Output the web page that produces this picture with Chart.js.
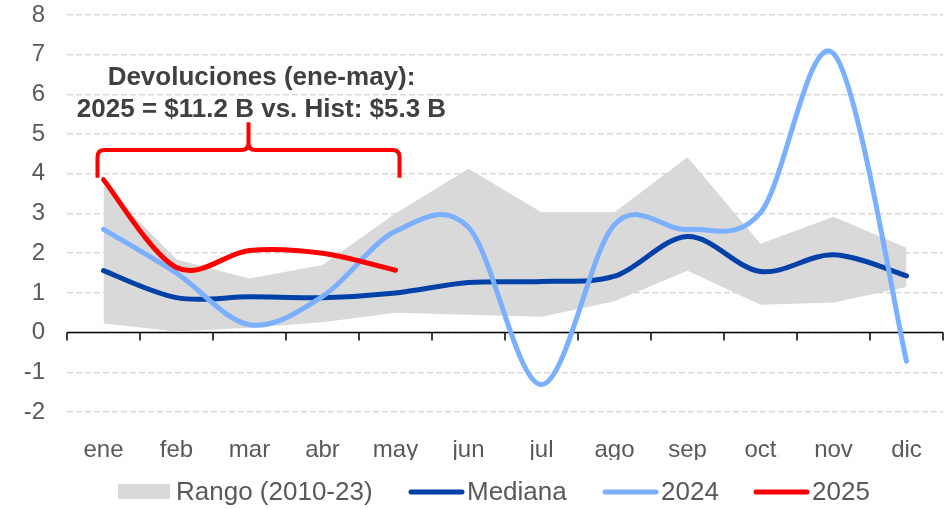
<!DOCTYPE html>
<html lang="es">
<head>
<meta charset="UTF-8">
<title>Devoluciones</title>
<script src="https://cdn.jsdelivr.net/npm/chart.js"></script>
<style>
  body { margin: 0; background: #fff; }
  #chart { display: block; }
</style>
</head>
<body>
<canvas id="chart" width="950" height="509"></canvas>
<script>
const meses = ['ene', 'feb', 'mar', 'abr', 'may', 'jun', 'jul', 'ago', 'sep', 'oct', 'nov', 'dic'];
const rangoMin = [0.23, 0.03, 0.12, 0.26, 0.50, 0.45, 0.40, 0.79, 1.56, 0.70, 0.76, 1.15];
const rangoMax = [3.72, 1.84, 1.36, 1.70, 3.00, 4.13, 3.03, 3.03, 4.42, 2.24, 2.92, 2.14];
const mediana = [1.56, 0.88, 0.90, 0.88, 1.00, 1.26, 1.29, 1.42, 2.42, 1.54, 1.96, 1.43];
const serie2024 = [2.60, 1.50, 0.20, 0.91, 2.55, 2.65, -1.31, 2.72, 2.60, 3.02, 7.03, -0.72];
const serie2025 = [3.85, 1.64, 2.07, 2.00, 1.57, null, null, null, null, null, null, null];
const yTicks = [-2, -1, 0, 1, 2, 3, 4, 5, 6, 7, 8];

const GRIS = '#D9D9D9';
const AZUL = '#0041A8';
const CELESTE = '#7BAFFF';
const ROJO = '#FF0000';
const TEXTO = '#595959';
const FUENTE = 'Arial, "Liberation Sans", sans-serif';

// Excel-like smoothing: uniform Catmull-Rom control points on the library's own points
const suavizado = {
    id: 'suavizado',
    beforeDatasetsDraw(chart) {
        chart.data.datasets.forEach((ds, i) => {
            if (!ds.suave) return;
            const meta = chart.getDatasetMeta(i);
            const line = meta.dataset;
            line.updateControlPoints(chart.chartArea, 'x');
            const pts = meta.data;
            const k = 1 / 6;
            pts.forEach((p, j) => {
                if (p.skip) return;
                const prev = (j > 0 && !pts[j - 1].skip) ? pts[j - 1] : p;
                const next = (j < pts.length - 1 && !pts[j + 1].skip) ? pts[j + 1] : p;
                p.cp1x = p.x - k * (next.x - prev.x);
                p.cp1y = p.y - k * (next.y - prev.y);
                p.cp2x = p.x + k * (next.x - prev.x);
                p.cp2y = p.y + k * (next.y - prev.y);
            });
            line._path = undefined;
        });
    }
};

// axis line at zero with tick marks between months
const ejeCero = {
    id: 'ejeCero',
    beforeDatasetsDraw(chart) {
        const { ctx, chartArea, scales: { x, y } } = chart;
        const y0 = y.getPixelForValue(0);
        const paso = x.getPixelForValue(1) - x.getPixelForValue(0);
        ctx.save();
        ctx.strokeStyle = '#000';
        ctx.lineWidth = 1.5;
        ctx.beginPath();
        ctx.moveTo(chartArea.left, y0);
        ctx.lineTo(chartArea.right, y0);
        for (let i = 0; i <= meses.length; i++) {
            const px = Math.round(x.getPixelForValue(i) - paso / 2);
            ctx.moveTo(px, y0);
            ctx.lineTo(px, y0 + 8);
        }
        ctx.stroke();
        ctx.restore();
    }
};

// brace + note over ene-may
const nota = {
    id: 'nota',
    afterDatasetsDraw(chart) {
        const { ctx, scales: { x, y } } = chart;
        const xl = x.getPixelForValue(0) - 6;
        const xr = x.getPixelForValue(4) + 4;
        const xm = (xl + xr) / 2;
        const yb = y.getPixelForValue(3.9);
        const yh = y.getPixelForValue(4.6);
        const yt = y.getPixelForValue(5.3);
        const r = 7;
        ctx.save();
        ctx.strokeStyle = ROJO;
        ctx.lineWidth = 4;
        ctx.lineJoin = 'round';
        ctx.beginPath();
        ctx.moveTo(xl, yb);
        ctx.lineTo(xl, yh + r);
        ctx.quadraticCurveTo(xl, yh, xl + r, yh);
        ctx.lineTo(xm - r, yh);
        ctx.quadraticCurveTo(xm, yh, xm, yh - r);
        ctx.lineTo(xm, yt);
        ctx.moveTo(xm, yh - r);
        ctx.quadraticCurveTo(xm, yh, xm + r, yh);
        ctx.lineTo(xr - r, yh);
        ctx.quadraticCurveTo(xr, yh, xr, yh + r);
        ctx.lineTo(xr, yb);
        ctx.stroke();

        ctx.fillStyle = '#404040';
        ctx.font = 'bold 26px ' + FUENTE;
        ctx.textAlign = 'center';
        ctx.textBaseline = 'middle';
        ctx.fillText('Devoluciones (ene-may):', xm + 13, y.getPixelForValue(6.42));
        ctx.fillText('2025 = $11.2 B vs. Hist: $5.3 B', xm + 13, y.getPixelForValue(5.62));
        ctx.restore();
    }
};

// legend at the bottom
const leyendaItems = [
    { texto: 'Rango (2010-23)', color: GRIS, tipo: 'caja', x: 118 },
    { texto: 'Mediana', color: AZUL, tipo: 'linea', x: 409 },
    { texto: '2024', color: CELESTE, tipo: 'linea', x: 603 },
    { texto: '2025', color: ROJO, tipo: 'linea', x: 754 }
];
const leyenda = {
    id: 'leyenda',
    afterDraw(chart) {
        const { ctx } = chart;
        const yc = 492;
        ctx.save();
        ctx.font = '26px ' + FUENTE;
        ctx.textBaseline = 'middle';
        ctx.textAlign = 'left';
        leyendaItems.forEach(it => {
            if (it.tipo === 'caja') {
                ctx.fillStyle = it.color;
                ctx.fillRect(it.x, yc - 8, 52, 15);
            } else {
                ctx.strokeStyle = it.color;
                ctx.lineWidth = 5;
                ctx.lineCap = 'round';
                ctx.beginPath();
                ctx.moveTo(it.x + 2, yc);
                ctx.lineTo(it.x + 53, yc);
                ctx.stroke();
            }
            ctx.fillStyle = TEXTO;
            ctx.fillText(it.texto, it.x + 58, yc + 1);
        });
        ctx.restore();
    }
};

const linea = (label, data, color, order) => ({
    label, data, order,
    suave: true,
    borderColor: color,
    backgroundColor: color,
    borderWidth: 5,
    borderCapStyle: 'round',
    borderJoinStyle: 'round',
    pointRadius: 0,
    pointHoverRadius: 0,
    tension: 0.4,
    fill: false
});

new Chart(document.getElementById('chart'), {
    type: 'line',
    data: {
        labels: meses,
        datasets: [
            {
                label: 'min', data: rangoMin, order: 6,
                borderWidth: 0, pointRadius: 0, tension: 0, fill: false
            },
            {
                label: 'Rango (2010-23)', data: rangoMax, order: 5,
                borderWidth: 0, pointRadius: 0, tension: 0,
                backgroundColor: GRIS, fill: '-1'
            },
            linea('Mediana', mediana, AZUL, 3),
            linea('2024', serie2024, CELESTE, 2),
            linea('2025', serie2025, ROJO, 1)
        ]
    },
    options: {
        responsive: false,
        animation: false,
        events: [],
        layout: { padding: { top: 15, right: 7, bottom: 49, left: 0 } },
        elements: { line: { capBezierPoints: false } },
        plugins: {
            legend: { display: false },
            tooltip: { enabled: false }
        },
        scales: {
            x: {
                offset: true,
                grid: { display: false },
                border: { display: false },
                ticks: { color: TEXTO, font: { size: 24, family: FUENTE }, padding: 16, maxRotation: 0 },
                afterFit: s => { s.height = 48; }
            },
            y: {
                min: -2,
                max: 8,
                afterBuildTicks: s => { s.ticks = yTicks.map(v => ({ value: v })); },
                grid: { color: GRIS, lineWidth: 1.5, drawTicks: false },
                border: { display: false, dash: [6, 3] },
                ticks: { color: TEXTO, font: { size: 24, family: FUENTE }, padding: 22 },
                afterFit: s => { s.width = 67; s.paddingTop = 14; s.paddingBottom = 14; }
            }
        }
    },
    plugins: [suavizado, ejeCero, nota, leyenda]
});
</script>
</body>
</html>
